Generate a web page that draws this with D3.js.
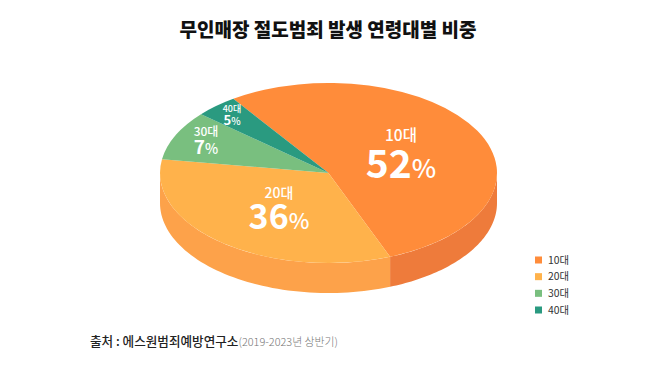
<!DOCTYPE html>
<html><head><meta charset="utf-8">
<script src="https://cdn.jsdelivr.net/npm/d3@7"></script>
<style>html,body{margin:0;background:#fff}svg{display:block}text{font-family:"Noto Sans CJK KR","Noto Sans",sans-serif}</style>
</head><body><svg id="c" width="658" height="369"></svg>
<script>
const titleText = "무인매장 절도범죄 발생 연령대별 비중";
const categories = ["10대","20대","30대","40대"];
const values = [52,36,7,5];                 // printed percentages
const drawnShares = [53.6,33.4,8.9,4.1];    // slice sizes as actually drawn in the picture (differ slightly from the printed values)
const topColors = ["#FF8C3A","#FFB24B","#79BF7F","#2A9A80"];
const wallColors = ["#EE7B3B","#FDA24A","#5FA568","#1F8069"];
const sourceMain = "출처 : 에스원범죄예방연구소";
const sourceNote = "(2019-2023년 상반기)";

const cx=328.5, cy=173, rx=168.5, ry=90, depth=30;
const svg=d3.select("#c");
const startA=-34.4*Math.PI/180;
const pie=d3.pie().value(d=>d).sort(null).startAngle(startA).endAngle(startA+2*Math.PI);
const arcs=pie(drawnShares);
const arc=d3.arc().innerRadius(0).outerRadius(rx);
const line=d3.line();
const px=a=>cx+rx*Math.sin(a), py=a=>cy-ry*Math.cos(a);

// side wall: visible only where the rim faces the viewer (pi/2..3pi/2)
const wall=svg.append("g");
arcs.forEach((d,i)=>{
  const a0=Math.max(d.startAngle,Math.PI/2), a1=Math.min(d.endAngle,3*Math.PI/2);
  if(a1<=a0) return;
  const as=d3.range(0,61).map(k=>a0+(a1-a0)*k/60);
  const pts=as.map(a=>[px(a),py(a)]).concat(as.slice().reverse().map(a=>[px(a),py(a)+depth]));
  wall.append("path").attr("d",line(pts)+"Z").attr("fill",wallColors[i]);
});

svg.append("g").attr("transform",`translate(${cx},${cy}) scale(1,${ry/rx})`)
  .selectAll("path").data(arcs).join("path")
  .attr("d",arc).attr("fill",(d,i)=>topColors[i]);

svg.append("text").attr("x",328).attr("y",37).attr("text-anchor","middle")
  .attr("font-size",19).attr("font-weight",900).attr("fill","#111").text(titleText);

const labelPos=[[401,135,15.5,178,39,26],[279,193,14,229,34,22],[206,132,12,154,19,14],[232,109,9,124.5,13,10]];
labelPos.forEach((p,i)=>{
  svg.append("text").attr("x",p[0]).attr("y",p[1]+p[2]*0.36).attr("text-anchor","middle")
    .attr("font-size",p[2]).attr("font-weight",500).attr("fill","#fff").text(categories[i]);
  const t=svg.append("text").attr("x",p[0]).attr("y",p[3]).attr("text-anchor","middle").attr("fill","#fff");
  t.append("tspan").attr("font-size",p[4]).attr("font-weight",700).text(values[i]);
  t.append("tspan").attr("font-size",p[5]).attr("font-weight",500).text("%");
});

const legY=d3.scalePoint().domain(categories).range([260,310]);
categories.forEach((c,i)=>{
  svg.append("rect").attr("x",535).attr("y",legY(c)-3.5).attr("width",7).attr("height",7).attr("fill",topColors[i]);
  svg.append("text").attr("x",548).attr("y",legY(c)+3.6).attr("font-size",10.4).attr("fill","#333").text(c);
});

const s=svg.append("text").attr("x",90).attr("y",346);
s.append("tspan").attr("font-size",12.6).attr("font-weight",500).attr("fill","#222").text(sourceMain);
s.append("tspan").attr("font-size",10.9).attr("font-weight",300).attr("fill","#777").text(sourceNote);
</script></body></html>
